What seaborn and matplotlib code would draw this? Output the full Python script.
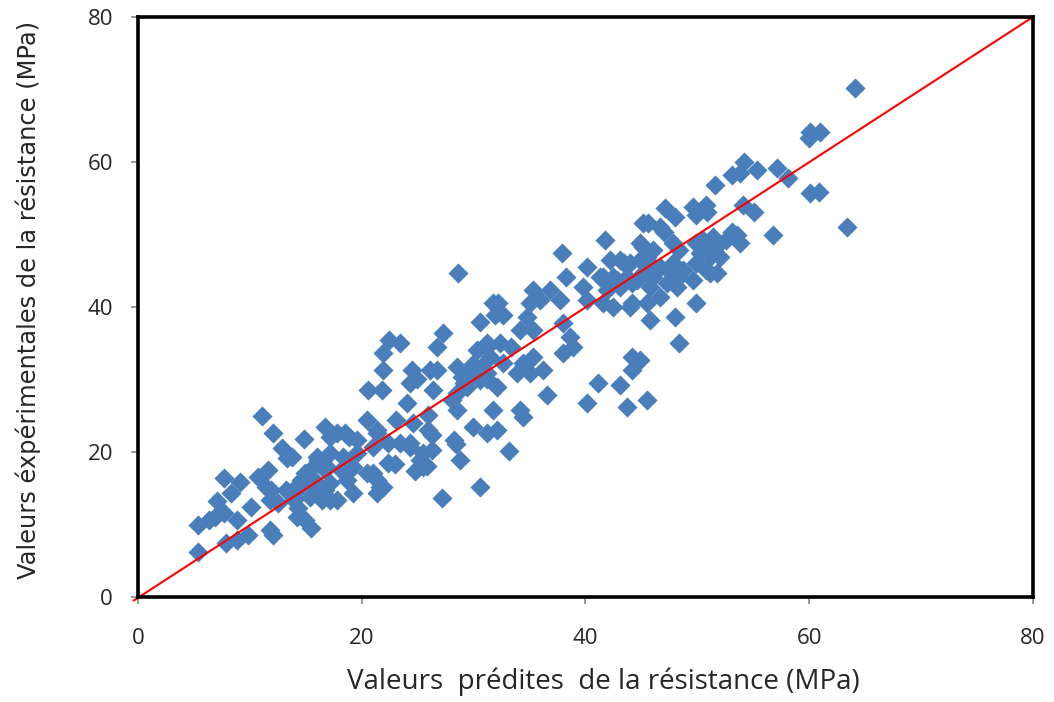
import matplotlib
matplotlib.use("Agg")
import matplotlib.pyplot as plt
import seaborn as sns
import pandas as pd

# Predicted (x) and experimental (y) strength values, MPa
predicted = [
    11.1, 12.1, 14.8, 12.9, 13.3, 16.7, 17.2, 7.7, 9.1, 8.3, 7.1, 7.7, 5.4, 6.3, 6.9, 5.4, 8.8, 7.9, 8.8, 9.8,
    12.1, 11.8, 10.1, 10.7, 11.6, 11.4, 11.9, 11.8, 12.5, 13.2, 14.0, 14.6, 14.9, 15.5, 14.3, 16.1, 16.7, 15.8, 16.7, 17.2,
    16.4, 15.5, 14.9,
    22.4, 23.4, 21.9, 21.9, 20.6, 21.8, 27.3, 26.7, 30.6, 31.7, 31.9, 24.5, 24.3, 26.1, 26.7, 24.9, 26.4, 24.0, 23.1, 20.5,
    21.4, 17.8, 18.9, 25.9, 24.3, 25.2, 26.3, 25.8, 28.2, 28.8, 30.6, 27.2, 28.5, 29.9, 31.2, 31.7, 21.4, 21.6, 20.5, 28.5,
    30.3, 31.2, 29.9, 30.7, 29.0, 29.4, 31.2, 28.1, 25.9,
    41.7, 37.9, 28.6, 45.1, 44.9, 45.5, 42.2, 43.4, 40.1, 38.3, 41.6, 42.8, 44.6, 39.8, 35.3, 36.8, 32.2, 32.6, 35.0, 35.9,
    37.7, 40.1, 41.6, 42.5, 44.0, 34.8, 34.1, 35.3, 38.0, 38.6, 38.9, 38.0, 31.2, 32.4, 33.3, 31.5, 32.6, 34.4, 35.3, 36.2,
    33.9, 35.0, 31.2, 29.7, 29.1, 30.6, 32.1, 28.5, 36.6, 34.1, 34.4, 32.1, 40.1, 41.1, 43.1, 43.7, 44.2, 44.9, 44.2, 45.5,
    54.2, 55.3, 53.1, 53.8, 57.1, 58.1, 51.6, 60.1, 60.9, 63.4, 47.1, 48.0, 49.6, 50.8, 50.9, 49.9, 54.1, 55.1, 45.6, 46.7,
    47.0, 56.8, 53.1, 53.5, 53.8, 52.6, 51.4, 50.5, 49.9, 50.8, 51.7, 45.1, 46.0, 47.8, 48.4, 50.2, 51.1, 52.0, 43.1, 44.0,
    44.9, 45.8, 46.7, 47.8, 48.7, 49.9, 50.8, 51.8, 41.3, 42.5, 43.7, 45.1, 46.0, 47.6, 48.4, 49.6, 51.1, 41.9, 43.1, 44.2,
    45.8, 47.3, 48.2, 44.2, 45.5, 46.7, 45.8, 48.0, 49.9, 48.4,
    64.1, 60.1, 61.0, 60.0,
    24.6, 18.5, 19.6, 21.4, 21.0, 22.3, 23.4, 24.3, 25.5, 25.5, 13.8, 16.0, 17.2, 18.3, 19.6, 15.4, 16.9, 18.1, 19.2, 21.0,
    22.3, 14.5, 16.0, 17.2, 18.7, 21.9, 21.4, 13.9, 15.4, 16.5, 17.8, 19.2, 14.2,
    33.2, 28.4, 26.3, 24.8, 23.0,
]
experimental = [
    25.0, 22.6, 21.8, 20.6, 19.2, 23.5, 22.0, 16.4, 15.9, 14.3, 13.2, 11.6, 9.9, 10.6, 11.0, 6.2, 10.6, 7.4, 7.9, 8.6,
    8.6, 9.2, 12.4, 16.6, 17.5, 15.2, 14.8, 13.4, 13.0, 14.8, 15.0, 16.1, 10.6, 9.5, 12.3, 18.9, 17.5, 15.2, 14.8, 13.4,
    13.4, 16.1, 17.1,
    35.4, 35.0, 33.6, 31.3, 28.6, 28.6, 36.4, 34.5, 37.9, 40.5, 38.9, 31.3, 29.5, 31.3, 31.3, 30.0, 28.6, 26.8, 24.4, 24.4,
    23.0, 22.6, 22.0, 23.0, 20.7, 18.9, 20.3, 18.0, 21.7, 18.9, 15.2, 13.7, 25.8, 23.5, 22.6, 25.8, 16.1, 15.2, 17.1, 31.7,
    34.0, 34.5, 32.2, 31.7, 30.3, 29.0, 30.0, 27.2, 25.1,
    49.2, 47.4, 44.7, 51.6, 48.8, 46.9, 46.5, 46.0, 45.5, 44.1, 44.1, 43.7, 43.7, 42.8, 42.3, 42.3, 40.5, 38.9, 40.5, 41.0,
    41.0, 41.0, 40.5, 40.0, 40.0, 38.6, 36.8, 36.8, 37.8, 35.9, 34.5, 33.6, 35.0, 35.0, 34.5, 33.1, 32.3, 32.3, 33.1, 31.3,
    30.9, 30.9, 30.9, 30.9, 29.5, 29.9, 29.0, 28.1, 27.9, 25.8, 24.8, 23.0, 26.8, 29.5, 29.2, 26.2, 33.1, 32.7, 31.3, 27.2,
    60.0, 58.9, 58.2, 58.5, 59.2, 57.8, 56.8, 55.7, 55.9, 51.0, 53.7, 52.4, 53.8, 54.1, 53.1, 52.7, 54.1, 53.1, 51.6, 51.0,
    50.3, 49.9, 50.3, 49.9, 48.8, 49.2, 49.6, 49.2, 48.8, 48.3, 48.3, 48.3, 47.9, 48.8, 47.9, 47.4, 46.9, 46.9, 46.5, 46.0,
    46.5, 46.0, 45.5, 46.0, 45.1, 46.0, 45.1, 44.7, 44.1, 44.1, 44.1, 44.7, 44.1, 44.7, 44.1, 43.7, 44.7, 42.3, 42.8, 43.3,
    42.8, 43.3, 42.8, 40.5, 40.5, 41.4, 38.2, 38.6, 40.5, 35.0,
    70.2, 64.1, 64.1, 63.3,
    24.0, 22.6, 21.7, 22.6, 20.7, 21.2, 21.2, 21.2, 19.9, 17.9, 19.3, 19.3, 19.9, 19.3, 19.9, 17.5, 17.9, 17.5, 17.9, 17.1,
    18.5, 15.2, 15.7, 15.7, 16.1, 15.2, 14.3, 13.4, 13.8, 13.8, 13.4, 14.3, 11.0,
    20.1, 21.1, 22.4, 17.4, 18.3,
]
ref_line = [0, 80]
ticks = [0, 20, 40, 60, 80]

df = pd.DataFrame({"pred": predicted, "exp": experimental})

sns.set_theme(style="white")
plt.rcParams["font.family"] = ["Open Sans", "DejaVu Sans"]

fig = plt.figure(figsize=(10.54, 7.02), dpi=100)
ax = fig.add_axes([0.131, 0.1496, 0.849, 0.8262])

sns.scatterplot(data=df, x="pred", y="exp", marker="D", s=105, color="#4A7EBB",
                linewidth=0, alpha=1.0, ax=ax, zorder=2)
ax.plot([-0.4, ref_line[1]], [-0.5, ref_line[1]], color="#FF0000", lw=1.5, zorder=3, clip_on=False)

ax.set_xlim(0, 80)
ax.set_ylim(0, 80)
ax.set_xticks(ticks)
ax.set_yticks(ticks)
ax.set_xticklabels([str(t) for t in ticks], fontsize=16)
ax.set_yticklabels([str(t) for t in ticks], fontsize=16)
ax.tick_params(axis="both", direction="out", length=5, width=1.2, color="#888888",
               bottom=True, left=True)
ax.tick_params(axis="x", pad=17)
ax.tick_params(axis="y", pad=13)

for sp in ax.spines.values():
    sp.set_visible(True)
    sp.set_color("black")
    sp.set_linewidth(2.6)
    sp.set_zorder(4)

ax.set_xlabel("Valeurs  prédites  de la résistance (MPa)", fontsize=20)
ax.xaxis.set_label_coords(0.52, -0.122)
ax.set_ylabel("Valeurs éxpérimentales de la résistance (MPa)", fontsize=17.4,
              family=["DejaVu Sans"])
ax.yaxis.set_label_coords(-0.108, 0.512)

fig.savefig("out.png", dpi=100)
